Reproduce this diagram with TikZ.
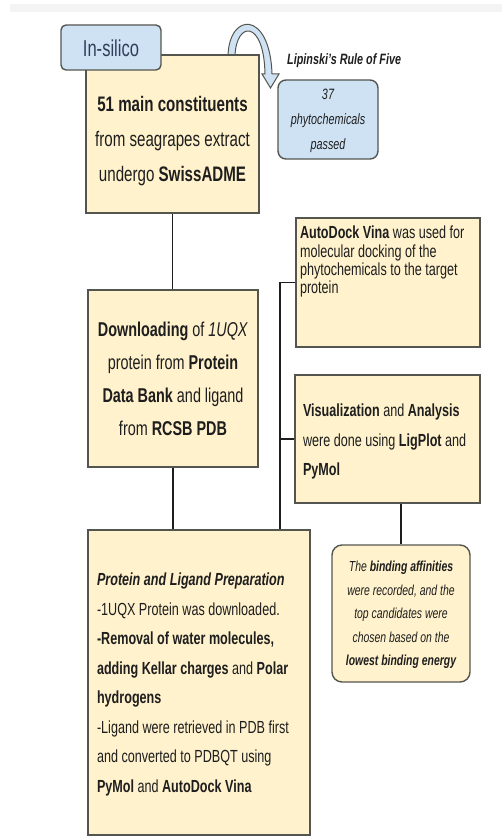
\documentclass[tikz,border=0pt]{standalone}
\usepackage{fontspec}
\setmainfont[FakeStretch=0.72]{Liberation Sans}
\definecolor{padfill}{HTML}{FFF2CC}
\definecolor{bluefill}{HTML}{CFE2F3}
\definecolor{edge}{HTML}{555550}
\definecolor{ink}{HTML}{1E1E1E}
\definecolor{slate}{HTML}{2F3F5A}
\newcommand{\pbx}[4]{\parbox[c][#2][t]{#1}{\vspace*{#3}#4}}
\tikzset{
  panel/.style={draw=edge, line width=1.4pt, fill=padfill, rectangle, inner sep=0pt, text=ink},
  bluepanel/.style={draw=edge, line width=1.4pt, fill=bluefill, rounded corners=5pt, inner sep=0pt, text=ink},
  softpanel/.style={panel, rounded corners=10pt},
  link/.style={draw=ink, line width=1.8pt},
  turnarrow/.style={draw=edge, line width=1pt, fill=bluefill},
}
\begin{document}
\begin{tikzpicture}[x=1pt,y=-1pt]
\useasboundingbox (0,0) rectangle (502,837);
\fill[gray!9] (10,4) rectangle (502,12);

% curved arrow (Lipinski filter)
\draw[turnarrow] (228,56) .. controls (229,12) and (270,10) .. (272,74)
  -- (279,74) -- (270.5,88) -- (262,74) -- (265,74)
  .. controls (264,19) and (236,21) .. (235,56) -- cycle;

\node[panel] (box1) at (172.5,134)
  {\pbx{173pt}{158pt}{41.7pt}{\centering\fontsize{21}{35}\selectfont
   \textbf{51 main constituents}\\from seagrapes extract\\undergo \textbf{SwissADME}\par}};

\node[bluepanel] (insilico) at (111,47.5)
  {\pbx{100pt}{45pt}{15.2pt}{\centering\fontsize{23}{27}\selectfont\color{slate}In-silico\par}};

\node[anchor=base west, inner sep=0pt, text=ink,
      font=\fontsize{15}{18}\selectfont\bfseries\itshape] (lip) at (287,65)
  {Lipinski's Rule of Five};

\node[bluepanel, rounded corners=8pt] (passed) at (328,119.5)
  {\pbx{100pt}{79pt}{9pt}{\centering\itshape\fontsize{15}{25}\selectfont
   37\\phytochemicals\\passed\par}};

\node[panel] (box2) at (173,378.5)
  {\pbx{170pt}{177pt}{32.4pt}{\centering\fontsize{20}{33}\selectfont
   \textbf{Downloading} of \textit{1UQX}\\protein from \textbf{Protein}\\
   \textbf{Data Bank} and ligand\\from \textbf{RCSB PDB}\par}};

\node[panel, inner xsep=4pt] (dock) at (388,282.5)
  {\pbx{176pt}{129pt}{8.2pt}{\raggedright\fontsize{17.5}{18.3}\selectfont
   \textbf{AutoDock Vina} was used for\\molecular docking of the\\
   phytochemicals to the target\\protein\par}};

\node[panel, inner xsep=8pt] (vis) at (387.5,439)
  {\pbx{169pt}{128pt}{29.2pt}{\raggedright\fontsize{17.5}{29.5}\selectfont
   \textbf{Visualization} and \textbf{Analysis}\\were done using \textbf{LigPlot} and\\
   \textbf{PyMol}\par}};

\node[panel, inner xsep=9pt] (box3) at (199,682.5)
  {\pbx{204pt}{305pt}{43.2pt}{\raggedright\fontsize{17.5}{29.5}\selectfont
   \textbf{\textit{Protein and Ligand Preparation}}\\
   -1UQX Protein was downloaded.\\
   \textbf{-Removal of water molecules,}\\
   \textbf{adding Kellar charges} and \textbf{Polar}\\
   \textbf{hydrogens}\\
   -Ligand were retrieved in PDB first\\
   and converted to PDBQT using\\
   \textbf{PyMol} and \textbf{AutoDock Vina}\par}};

\node[softpanel] (bind) at (401,613.5)
  {\pbx{138pt}{137pt}{16.4pt}{\centering\itshape\fontsize{14.5}{23.5}\selectfont
   The \textbf{binding affinities}\\were recorded, and the\\top candidates were\\
   chosen based on the\\\textbf{lowest binding energy}\par}};

% connectors
\draw[link] (box1.south) -- (box1.south |- box2.north);
\draw[link] (box2.south) -- (box2.south |- box3.north);
\coordinate (jtop) at (280,282.5);
\draw[link] (dock.west) -- (jtop) -- (jtop |- box3.north);
\draw[link] (vis.west) -- (vis.west -| jtop);
\draw[link] (bind.north |- vis.south) -- (bind.north);
\end{tikzpicture}
\end{document}
